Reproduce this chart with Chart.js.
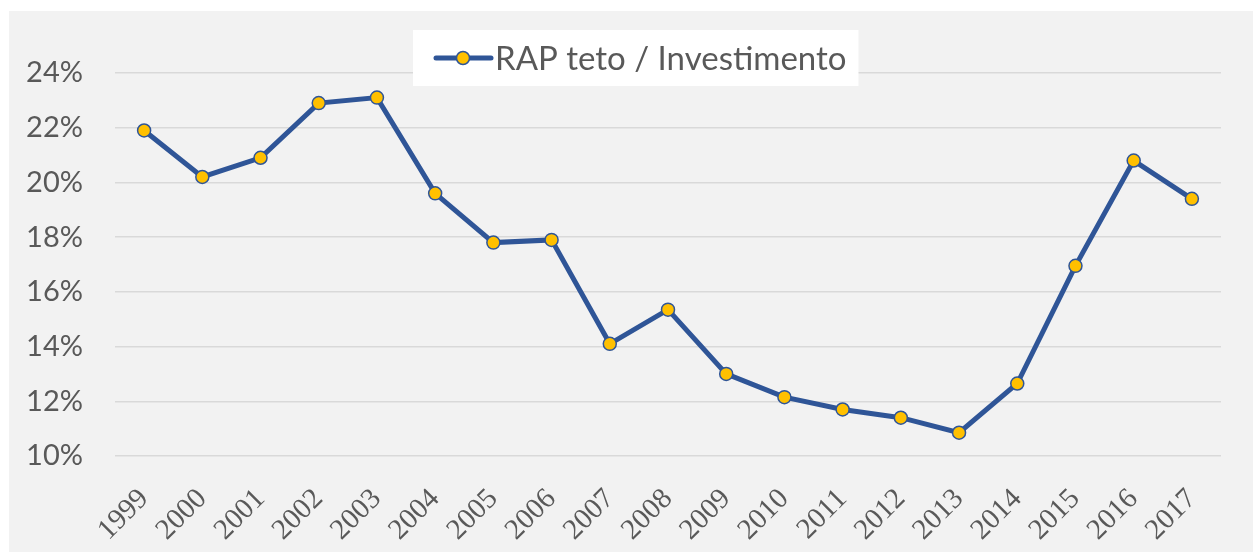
<!DOCTYPE html>
<html>
<head>
<meta charset="utf-8">
<script src="https://cdn.jsdelivr.net/npm/chart.js@4.4.1/dist/chart.umd.min.js"></script>
<style>
  html, body { margin: 0; padding: 0; background: #ffffff; }
  #frame { position: absolute; left: 9px; top: 11px; width: 1244px; height: 541px; background: #f2f2f2; }
</style>
</head>
<body>
<div id="frame"><canvas id="rap-chart"></canvas></div>
<script>
const years = ["1999", "2000", "2001", "2002", "2003", "2004", "2005", "2006", "2007", "2008",
  "2009", "2010", "2011", "2012", "2013", "2014", "2015", "2016", "2017"];
const rapShare = [21.9, 20.2, 20.9, 22.9, 23.1, 19.6, 17.8, 17.9, 14.1, 15.35,
  13.0, 12.15, 11.7, 11.4, 10.85, 12.65, 16.95, 20.8, 19.4];
const seriesLabel = "RAP teto / Investimento";
const yMin = 10, yMax = 24, yStep = 2;

const lineBlue = "#2F5597";
const dotYellow = "#FFC000";

// legend drawn as a white box over the plot, like the original
const boxLegend = {
  id: "boxLegend",
  afterDraw: (chart) => {
    const ctx = chart.ctx;
    const ds = chart.data.datasets[0];
    ctx.save();
    ctx.font = "33px Lato";
    const textW = ctx.measureText(ds.label).width;
    const x = 404, y = 19, h = 56;
    const w = 82 + textW + 12;
    ctx.fillStyle = "#ffffff";
    ctx.fillRect(x, y, w, h);
    const ly = y + h / 2;
    ctx.beginPath();
    ctx.moveTo(x + 23, ly);
    ctx.lineTo(x + 78, ly);
    ctx.lineWidth = 5;
    ctx.lineCap = "round";
    ctx.strokeStyle = ds.borderColor;
    ctx.stroke();
    ctx.beginPath();
    ctx.arc(x + 50, ly, 6.5, 0, Math.PI * 2);
    ctx.fillStyle = ds.pointBackgroundColor;
    ctx.fill();
    ctx.lineWidth = 1.5;
    ctx.strokeStyle = ds.pointBorderColor;
    ctx.stroke();
    ctx.fillStyle = "#595959";
    ctx.textBaseline = "middle";
    ctx.fillText(ds.label, x + 82, ly + 1);
    ctx.restore();
  }
};

new Chart(document.getElementById("rap-chart"), {
  type: "line",
  data: {
    labels: years,
    datasets: [{
      label: seriesLabel,
      data: rapShare,
      borderColor: lineBlue,
      borderWidth: 5,
      pointRadius: 6.5,
      pointBorderWidth: 1.5,
      pointBackgroundColor: dotYellow,
      pointBorderColor: lineBlue,
      tension: 0,
      fill: false
    }]
  },
  options: {
    responsive: true,
    maintainAspectRatio: false,
    animation: false,
    layout: { padding: { left: 0, right: 32, top: 62, bottom: 0 } },
    scales: {
      x: {
        type: "category",
        offset: true,
        grid: { display: false },
        border: { display: false },
        ticks: {
          autoSkip: false,
          minRotation: 45,
          maxRotation: 45,
          padding: 18,
          color: "#595959",
          font: { family: "Liberation Serif", size: 29 }
        },
        afterFit: (scale) => { scale.height = 96; }
      },
      y: {
        min: yMin,
        max: yMax,
        border: { display: false },
        grid: { color: "#d9d9d9", lineWidth: 1.5, drawTicks: false },
        ticks: {
          stepSize: yStep,
          padding: 32,
          color: "#595959",
          font: { family: "Lato", size: 29 },
          callback: (v) => v + "%"
        },
        afterFit: (scale) => { scale.width = 106; }
      }
    },
    plugins: {
      legend: { display: false },
      tooltip: { enabled: false }
    }
  },
  plugins: [boxLegend]
});
</script>
</body>
</html>
